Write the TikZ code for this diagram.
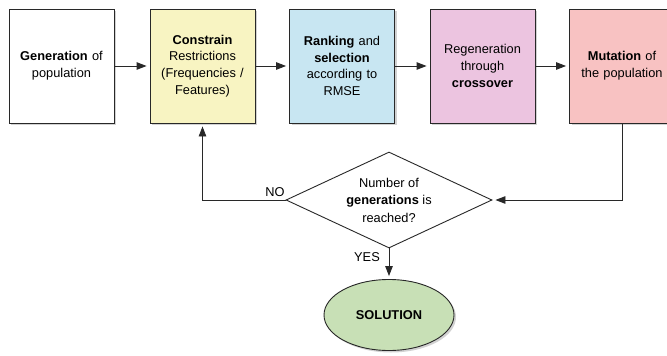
\documentclass[tikz,border=0pt]{standalone}
\usepackage{fontspec}
\setmainfont{Liberation Sans}
\usetikzlibrary{arrows.meta,shapes.geometric,shadows}
\definecolor{cwhite}{HTML}{FFFFFF}
\definecolor{cyellow}{HTML}{F8F4C2}
\definecolor{cblue}{HTML}{C8E6F2}
\definecolor{cpink}{HTML}{ECC4E0}
\definecolor{csalmon}{HTML}{F8C2C2}
\definecolor{cgreen}{HTML}{C8E0B6}
\definecolor{cline}{HTML}{282828}
\tikzset{
  stepbox/.style={draw=cline, line width=0.9pt, minimum width=105pt, minimum height=114pt,
    text width=104pt, align=center, inner sep=0pt,
    font=\fontsize{12.8}{16.8}\selectfont,
    drop shadow={shadow xshift=2pt, shadow yshift=-2pt, opacity=0.35, fill=gray}},
  decision/.style={diamond, draw=cline, fill=white, line width=0.9pt, minimum width=206pt,
    minimum height=96pt, aspect=2.15, inner sep=0pt, align=center,
    font=\fontsize{12.8}{17.5}\selectfont},
  endnode/.style={ellipse, draw=cline, fill=cgreen, line width=0.9pt, minimum width=130pt,
    minimum height=71pt, inner sep=0pt, font=\fontsize{12.8}{15}\selectfont\bfseries,
    drop shadow={shadow xshift=2pt, shadow yshift=-2pt, opacity=0.35, fill=gray}},
  flow/.style={draw=cline, line width=0.9pt, shorten >=3pt,
    -{Triangle[length=10pt,width=7.5pt]}},
  lbl/.style={font=\fontsize{12.8}{14}\selectfont, inner sep=0pt}
}
\begin{document}
\begin{tikzpicture}[x=1pt,y=-1pt]
  \useasboundingbox (0,0) rectangle (667,356);
  \fill[white] (0,0) rectangle (667,356);

  % process steps
  \node[stepbox, fill=cwhite]   (gen) at (61.5,66)  {\textbf{Generation} of\\population};
  \node[stepbox, fill=cyellow]  (con) at (202.5,66) {\textbf{Constrain}\\Restrictions\\(Frequencies /\\Features)};
  \node[stepbox, fill=cblue]    (rank) at (342,66)  {\textbf{Ranking} and\\\textbf{selection}\\according to\\RMSE};
  \node[stepbox, fill=cpink]    (reg) at (482.5,66) {Regeneration\\through\\\textbf{crossover}};
  \node[stepbox, fill=csalmon]  (mut) at (622,66)   {\textbf{Mutation} of\\the population};

  % decision and result
  \node[decision] (dec) at (389,200) {Number of\\\textbf{generations} is\\reached?};
  \node[endnode] (sol) at (389,315) {SOLUTION};

  % connectors
  \draw[flow] (gen) -- (con);
  \draw[flow] (con) -- (rank);
  \draw[flow] (rank) -- (reg);
  \draw[flow] (reg) -- (mut);
  \draw[flow] (mut.south) |- (dec.east);
  \draw[flow] (dec.west) -| (con.south);
  \draw[flow] (dec.south) -- (sol.north);

  % branch labels
  \node[lbl] (no) at (275,192) {NO};
  \node[lbl] (yes) at (367,257) {YES};
\end{tikzpicture}
\end{document}
